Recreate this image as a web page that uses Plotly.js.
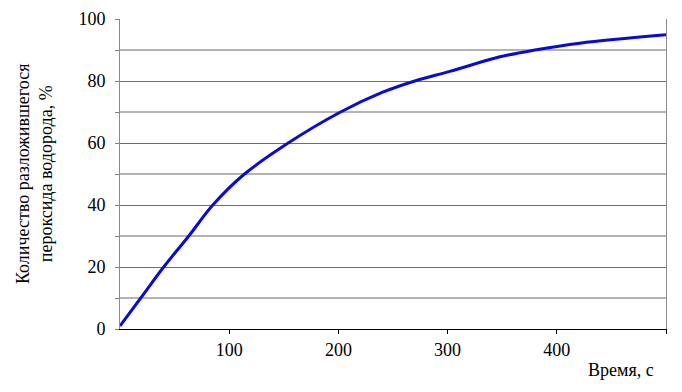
<!DOCTYPE html>
<html>
<head>
<meta charset="utf-8">
<script src="https://cdn.plot.ly/plotly-3.0.1.min.js"></script>
<style>
html,body{margin:0;padding:0;background:#fff;}
#chart{width:682px;height:392px;}
#chart svg text{font-family:'Liberation Serif','Times New Roman',serif !important;}
#chart path.y2grid{stroke:#b4b4b4 !important;stroke-width:2px !important;}
</style>
</head>
<body>
<div id="chart"></div>
<script>
const timeSec = [0, 19, 40, 63, 85, 114, 154, 202, 240, 270, 302, 348, 380, 421, 500];
const decomposedPct = [1, 10, 20, 30, 40, 50, 60, 70, 76.3, 80, 83.1, 87.8, 90, 92.2, 94.9];
const xTickVals = [100, 200, 300, 400, 500];
const xTickText = ['100', '200', '300', '400', ''];
const yTitle = 'Количество разложившегося<br>пероксида водорода, %';
const xTitle = 'Время, с';

const serifFont = {family: 'Liberation Serif', size: 18, color: '#000'};

Plotly.newPlot('chart', [{
  x: timeSec, y: decomposedPct, type: 'scatter', mode: 'lines',
  line: {color: '#0a0ad8', width: 3, shape: 'spline', smoothing: 1}
}, {
  x: [], y: [], yaxis: 'y2', type: 'scatter', mode: 'lines'
}], {
  width: 682, height: 392,
  margin: {l: 120, r: 16, t: 19, b: 63},
  font: serifFont,
  showlegend: false,
  xaxis: {
    range: [0, 500], tickmode: 'array', tickvals: xTickVals, ticktext: xTickText,
    ticks: 'outside', ticklen: 4, tickcolor: '#000', tickwidth: 1,
    showgrid: false, zeroline: false,
    showline: true, linecolor: '#000', linewidth: 1,
    tickfont: serifFont
  },
  yaxis: {
    range: [0, 100], tick0: 0, dtick: 20,
    ticks: 'outside', ticklen: 4, tickcolor: '#808080', tickwidth: 1,
    showgrid: true, gridcolor: '#6e6e6e', gridwidth: 1,
    zeroline: false,
    showline: true, linecolor: '#8a8a8a', linewidth: 1, mirror: true,
    tickfont: serifFont, ticklabelstandoff: 6
  },
  yaxis2: {
    range: [0, 100], overlaying: 'y', side: 'left', tick0: 10, dtick: 20,
    showticklabels: false, ticks: 'outside', ticklen: 4, tickcolor: '#808080', tickwidth: 1,
    showgrid: true, gridcolor: '#b4b4b4', gridwidth: 2,
    zeroline: false, showline: false
  },
  annotations: [
    {text: yTitle, xref: 'paper', yref: 'paper', x: 0, y: 0.5, xanchor: 'center', yanchor: 'middle',
     xshift: -86, textangle: -90, showarrow: false, font: serifFont},
    {text: xTitle, xref: 'paper', yref: 'paper', x: 1, y: 0, xanchor: 'right', yanchor: 'middle',
     xshift: -10, yshift: -41, showarrow: false, font: serifFont}
  ]
}, {displayModeBar: false});
</script>
</body>
</html>
